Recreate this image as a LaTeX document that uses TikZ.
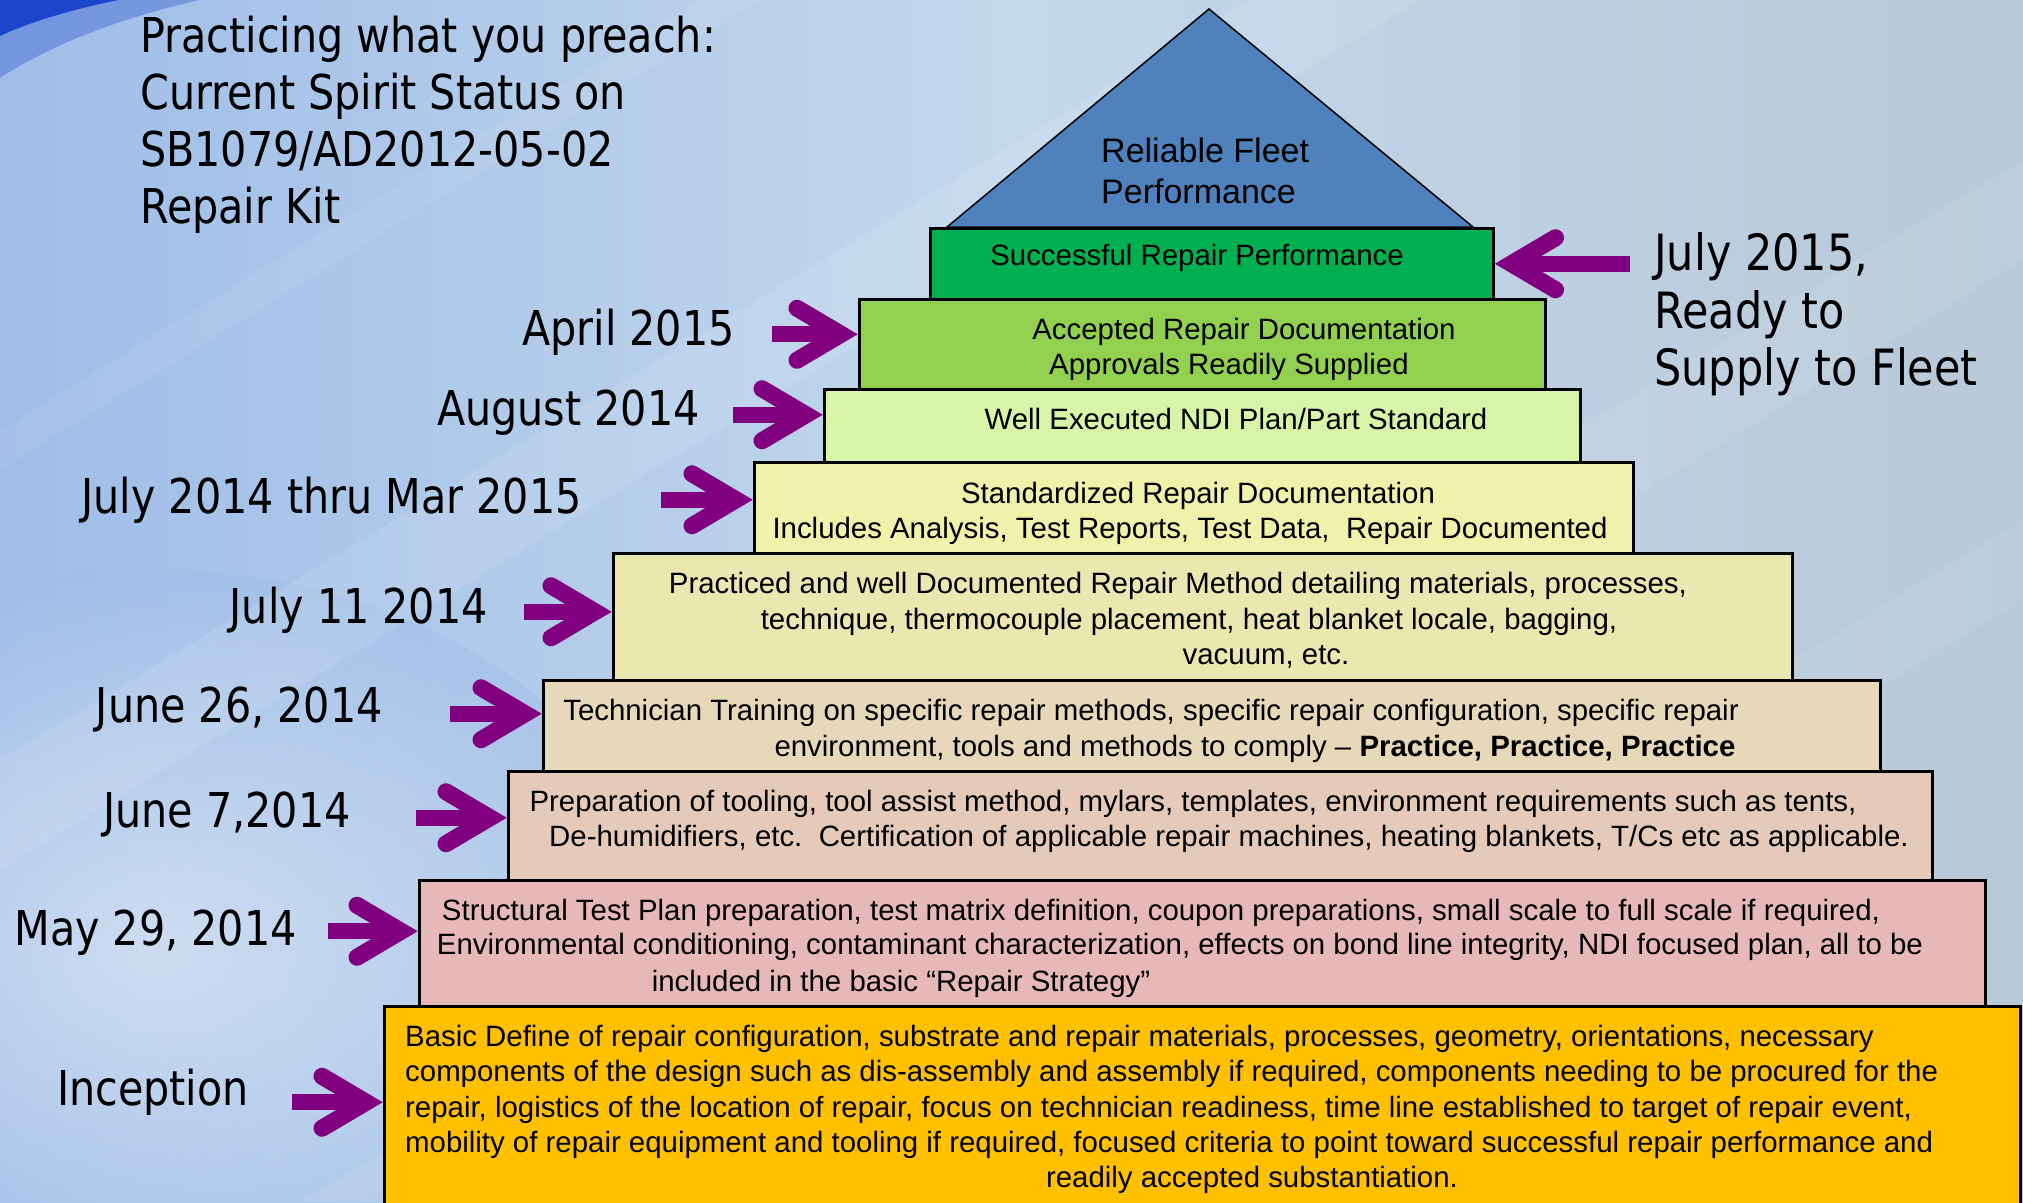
\documentclass[tikz,border=0pt]{standalone}
\usepackage{fontspec}
\setmainfont{Liberation Sans}
\newfontfamily\labelfont[FakeStretch=0.86]{DejaVu Sans}
\usetikzlibrary{calc}

% palette
\definecolor{skyL}{HTML}{9FBDE8}
\definecolor{skyM}{HTML}{C3D8EC}
\definecolor{skyR}{HTML}{B8C9D8}
\definecolor{cornerblue}{HTML}{1C46CC}
\definecolor{arrowpurple}{HTML}{800080}
\definecolor{cTop}{HTML}{4F81BD}
\definecolor{cSucc}{HTML}{00B050}
\definecolor{cAcc}{HTML}{92D050}
\definecolor{cWell}{HTML}{D7F4A9}
\definecolor{cStd}{HTML}{F0F1AB}
\definecolor{cPrac}{HTML}{EBE7B0}
\definecolor{cTech}{HTML}{E6D8B8}
\definecolor{cPrep}{HTML}{E6CAB9}
\definecolor{cStruct}{HTML}{E6B9B8}
\definecolor{cBasic}{HTML}{FFC000}

% purple milestone arrow: #1 tip, #2 direction (1 = right, -1 = left), #3 shaft length
\newcommand{\milestonearrow}[3]{%
  \begin{scope}[shift={(#1)}, xscale=#2]
    \fill[arrowpurple] (-#3,-8) rectangle (-18,8);
    \draw[arrowpurple, line width=17pt, line cap=round, line join=miter]
      (-61,-26) -- (-17,0) -- (-61,26);
  \end{scope}}

\begin{document}
\begin{tikzpicture}[x=1pt, y=-1pt,
  tier/.style={draw=black, line width=2.5pt, rectangle, inner sep=0pt, anchor=north west},
  tiertext/.style={anchor=base, inner sep=0pt, font=\fontsize{#1}{#1}\selectfont},
  tiertext/.default=29.4,
  datelabel/.style={anchor=base east, inner sep=0pt, font=\labelfont\fontsize{48}{48}\selectfont},
  titleline/.style={anchor=base west, inner sep=0pt, font=\labelfont\fontsize{48}{48}\selectfont}]

\useasboundingbox (0,0) rectangle (2023,1202);

% ---------- sky background ----------
\begin{scope}
  \clip (0,0) rectangle (2023,1202);
  \shade[left color=skyL, right color=skyR, middle color=skyM] (0,0) rectangle (2023,1202);
  % hazy light lower left
  \shade[inner color=white, outer color=skyL, opacity=0.45] (150,950) ellipse (520 and 380);
  % soft diagonal streaks
  \fill[white, opacity=0.10] (0,760) -- (1250,0) -- (1420,0) -- (0,870) -- cycle;
  \fill[white, opacity=0.08] (300,1202) -- (2023,160) -- (2023,260) -- (480,1202) -- cycle;
  \fill[white, opacity=0.07] (0,430) -- (700,0) -- (760,0) -- (0,470) -- cycle;
  \fill[white, opacity=0.06] (900,1202) -- (2023,520) -- (2023,600) -- (1030,1202) -- cycle;
  % dark blue swoosh in the corner
  \fill[cornerblue!55!skyL, opacity=0.6] (0,0) -- (200,0) .. controls (120,18) and (50,45) .. (0,78) -- cycle;
  \fill[cornerblue] (0,0) -- (118,0) .. controls (70,10) and (30,22) .. (0,36) -- cycle;
\end{scope}

% ---------- title ----------
\node[titleline] (title1) at (140,52)  {Practicing what you preach:};
\node[titleline] (title2) at (140,109) {Current Spirit Status on};
\node[titleline] (title3) at (140,166) {SB1079/AD2012-05-02};
\node[titleline] (title4) at (140,223) {Repair Kit};

% ---------- pyramid ----------
\draw[fill=cTop, line width=1.5pt] (1209,9) -- (1473,227) -- (947,227) -- cycle;
\node[anchor=base west, inner sep=0pt, font=\fontsize{34}{34}\selectfont] (top1) at (1101,162) {Reliable Fleet};
\node[anchor=base west, inner sep=0pt, font=\fontsize{34}{34}\selectfont] (top2) at (1101,203) {Performance};

\node[tier, fill=cSucc,   minimum width=563pt,  minimum height=71pt]  (b1) at (929,227)  {};
\node[tier, fill=cAcc,    minimum width=686pt,  minimum height=90pt]  (b2) at (858,298)  {};
\node[tier, fill=cWell,   minimum width=756pt,  minimum height=73pt]  (b3) at (823,388)  {};
\node[tier, fill=cStd,    minimum width=879pt,  minimum height=91pt]  (b4) at (753,461)  {};
\node[tier, fill=cPrac,   minimum width=1179pt, minimum height=127pt] (b5) at (612,552)  {};
\node[tier, fill=cTech,   minimum width=1337pt, minimum height=91pt]  (b6) at (542,679)  {};
\node[tier, fill=cPrep,   minimum width=1424pt, minimum height=109pt] (b7) at (507,770)  {};
\node[tier, fill=cStruct, minimum width=1566pt, minimum height=126pt] (b8) at (418,879)  {};
\node[tier, fill=cBasic,  minimum width=1636pt, minimum height=210pt] (b9) at (383,1005) {};

% tier texts
\node[tiertext] (t1) at (1197,265) {Successful Repair Performance};
\node[tiertext] (t2a) at (1244,339) {Accepted Repair Documentation};
\node[tiertext] (t2b) at (1229,374) {Approvals Readily Supplied};
\node[tiertext] (t3) at (1236,429) {Well Executed NDI Plan/Part Standard};
\node[tiertext] (t4a) at (1198,503) {Standardized Repair Documentation};
\node[tiertext] (t4b) at (1190,538) {Includes Analysis, Test Reports, Test Data,\ \ Repair Documented};
\node[tiertext] (t5a) at (1178,593) {Practiced and well Documented Repair Method detailing materials, processes,};
\node[tiertext] (t5b) at (1189,629) {technique, thermocouple placement, heat blanket locale, bagging,};
\node[tiertext] (t5c) at (1266,664) {vacuum, etc.};
\node[tiertext] (t6a) at (1151,720) {Technician Training on specific repair methods, specific repair configuration, specific repair};
\node[tiertext] (t6b) at (1255,756) {environment, tools and methods to comply -- \textbf{Practice, Practice, Practice}};
\node[tiertext] (t7a) at (1193,811) {Preparation of tooling, tool assist method, mylars, templates, environment requirements such as tents,};
\node[tiertext] (t7b) at (1229,846) {De-humidifiers, etc.\ \ Certification of applicable repair machines, heating blankets, T/Cs etc as applicable.};
\node[tiertext] (t8a) at (1161,920) {Structural Test Plan preparation, test matrix definition, coupon preparations, small scale to full scale if required,};
\node[tiertext] (t8b) at (1180,954) {Environmental conditioning, contaminant characterization, effects on bond line integrity, NDI focused plan, all to be};
\node[tiertext] (t8c) at (901,991) {included in the basic “Repair Strategy”};
\node[tiertext, anchor=base west] (t9a) at (405,1046) {Basic Define of repair configuration, substrate and repair materials, processes, geometry, orientations, necessary};
\node[tiertext, anchor=base west] (t9b) at (405,1081) {components of the design such as dis-assembly and assembly if required, components needing to be procured for the};
\node[tiertext, anchor=base west] (t9c) at (405,1117) {repair, logistics of the location of repair, focus on technician readiness, time line established to target of repair event,};
\node[tiertext, anchor=base west] (t9d) at (405,1152) {mobility of repair equipment and tooling if required, focused criteria to point toward successful repair performance and};
\node[tiertext] (t9e) at (1252,1187) {readily accepted substantiation.};

% ---------- milestone labels ----------
\node[datelabel] (dApr)  at (735,345)  {April 2015};
\node[datelabel] (dAug)  at (700,425)  {August 2014};
\node[datelabel] (dThru) at (582,513)  {July 2014 thru Mar 2015};
\node[datelabel] (dJ11)  at (488,623)  {July 11 2014};
\node[datelabel] (dJ26)  at (383,722)  {June 26, 2014};
\node[datelabel] (dJ7)   at (351,827)  {June 7,2014};
\node[datelabel] (dMay)  at (297,945)  {May 29, 2014};
\node[datelabel] (dInc)  at (249,1105) {Inception};
\node[titleline, font=\labelfont\fontsize{50}{50}\selectfont] (dJul1) at (1654,270) {July 2015,};
\node[titleline, font=\labelfont\fontsize{50}{50}\selectfont] (dJul2) at (1654,328) {Ready to};
\node[titleline, font=\labelfont\fontsize{50}{50}\selectfont] (dJul3) at (1654,385) {Supply to Fleet};

% ---------- arrows ----------
\coordinate (aJul)  at (b1.east);
\coordinate (aApr)  at ([yshift=10pt]b2.west);
\coordinate (aAug)  at ([yshift=11pt]b3.west);
\coordinate (aThru) at ([yshift=8pt]b4.west);
\coordinate (aJ11)  at ([yshift=5pt]b5.west);
\coordinate (aJ26)  at ([yshift=12pt]b6.west);
\coordinate (aJ7)   at ([yshift=8pt]b7.west);
\coordinate (aMay)  at ([yshift=12pt]b8.west);
\coordinate (aInc)  at ([yshift=9pt]b9.west);

\milestonearrow{aApr}{1}{86}
\milestonearrow{aAug}{1}{90}
\milestonearrow{aThru}{1}{92}
\milestonearrow{aJ11}{1}{88}
\milestonearrow{aJ26}{1}{92}
\milestonearrow{aJ7}{1}{91}
\milestonearrow{aMay}{1}{90}
\milestonearrow{aInc}{1}{91}
\begin{scope}[shift={(6,0)}]
\milestonearrow{aJul}{-1}{135}
\end{scope}

\end{tikzpicture}
\end{document}
